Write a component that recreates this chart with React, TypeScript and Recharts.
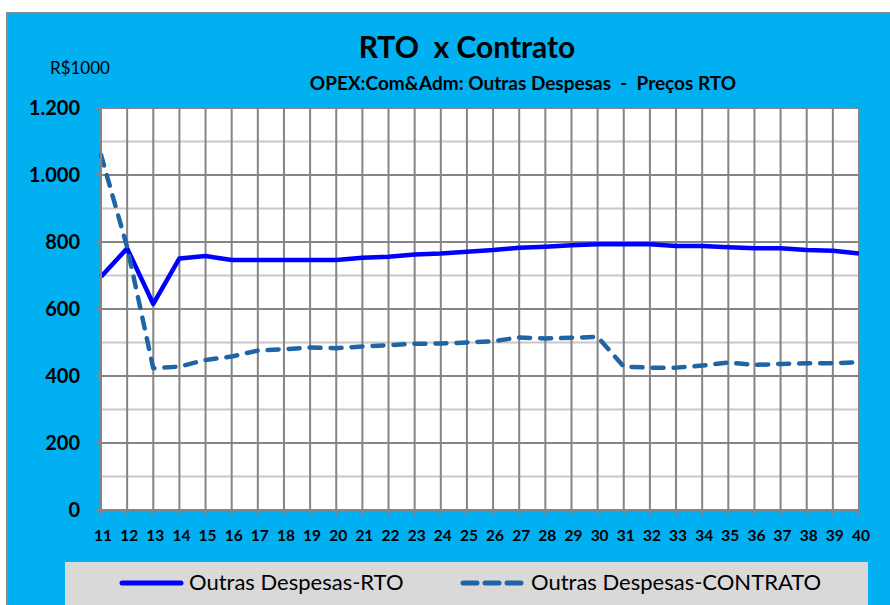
import React from 'react';
import { LineChart, Line, XAxis, YAxis, CartesianGrid } from 'recharts';

const years = [11,12,13,14,15,16,17,18,19,20,21,22,23,24,25,26,27,28,29,30,31,32,33,34,35,36,37,38,39,40];
const rtoValues = [696,781,615,751,758,746,746,746,746,746,753,756,763,766,771,776,783,786,790,793,793,793,788,788,784,781,781,776,774,766];
const contratoValues = [1060,785,423,428,448,458,476,480,485,483,488,492,496,497,500,504,515,512,514,517,428,425,425,431,440,433,436,438,438,441];
const yTicks = [0,200,400,600,800,1000,1200];
const yMinor = [100,300,500,700,900,1100];

const TITLE = 'RTO  x Contrato';
const SUBTITLE = 'OPEX:Com&Adm: Outras Despesas  -  Preços RTO';
const UNIT = 'R$1000';
const S1 = 'Outras Despesas-RTO';
const S2 = 'Outras Despesas-CONTRATO';

const data = years.map((y, i) => ({ x: y, rto: rtoValues[i], contrato: contratoValues[i] }));

const FONT = 'Lato, "Noto Sans", sans-serif';
const BLUE = '#0000FF';
const DASH = '#1F64A5';

const fmt = (v: number) => v >= 1000 ? `${Math.floor(v / 1000)}.${String(v % 1000).padStart(3, '0')}` : String(v);

export default function App() {
  return (
    <div style={{ position: 'fixed', left: 0, top: 0, width: 890, height: 605, overflow: 'hidden', background: '#fff', fontFamily: FONT }}>
      <div style={{ position: 'absolute', left: 6, top: 12, width: 900, height: 610, border: '2px solid #8a8a8a', background: '#00B0F0' }} />
      <div style={{ position: 'absolute', left: 0, width: 934, top: 29, textAlign: 'center', fontSize: 30, fontWeight: 700, color: '#000', whiteSpace: 'pre', lineHeight: '34px' }}>{TITLE}</div>
      <div style={{ position: 'absolute', left: 0, width: 1046, top: 70, textAlign: 'center', fontSize: 19, fontWeight: 700, color: '#000', whiteSpace: 'pre', lineHeight: '26px' }}>{SUBTITLE}</div>
      <div style={{ position: 'absolute', left: 50, top: 57, fontSize: 17, color: '#000', lineHeight: '22px' }}>{UNIT}</div>
      <div style={{ position: 'absolute', left: 65, top: 562, width: 803, height: 60, background: '#D9D9D9' }} />
      <svg style={{ position: 'absolute', left: 0, top: 0 }} width={890} height={605}>
        <line x1={122} y1={583} x2={181} y2={583} stroke={BLUE} strokeWidth={5} strokeLinecap="round" />
        <line x1={463} y1={583} x2={521} y2={583} stroke={DASH} strokeWidth={5} strokeLinecap="round" strokeDasharray="14 8" />
      </svg>
      <div style={{ position: 'absolute', left: 189, top: 569, fontSize: 22, color: '#000', lineHeight: '26px' }}>{S1}</div>
      <div style={{ position: 'absolute', left: 531, top: 569, fontSize: 22, color: '#000', lineHeight: '26px' }}>{S2}</div>
      <div style={{ position: 'absolute', left: 0, top: 0 }}>
        <LineChart width={890} height={605} data={data} margin={{ top: 108, right: 31, bottom: 65, left: 0 }}>
          <CartesianGrid fill="#FFFFFF" vertical={false} horizontalValues={yMinor} stroke="#C8C8C8" strokeWidth={2} />
          <CartesianGrid stroke="#858585" strokeWidth={2} />
          <XAxis
            dataKey="x"
            type="number"
            domain={[11, 40]}
            ticks={years}
            interval={0}
            height={30}
            tickSize={5}
            tickMargin={15}
            axisLine={{ stroke: '#858585', strokeWidth: 2 }}
            tickLine={{ stroke: '#858585', strokeWidth: 2 }}
            tick={{ fill: '#000', fontSize: 15.5, fontWeight: 700, fontFamily: FONT, dx: 2 }}
          />
          <YAxis
            domain={[0, 1200]}
            ticks={yTicks}
            interval={0}
            width={101}
            tickSize={5}
            tickMargin={16}
            tickFormatter={fmt}
            axisLine={{ stroke: '#858585', strokeWidth: 2 }}
            tickLine={{ stroke: '#858585', strokeWidth: 2 }}
            tick={{ fill: '#000', fontSize: 20, fontWeight: 700, fontFamily: FONT }}
          />
          <Line type="linear" dataKey="rto" name={S1} stroke={BLUE} strokeWidth={4.5} dot={false} isAnimationActive={false} strokeLinejoin="round" />
          <Line type="linear" dataKey="contrato" name={S2} stroke={DASH} strokeWidth={4.5} dot={false} isAnimationActive={false} strokeDasharray="11 10" strokeLinecap="round" strokeLinejoin="round" />
        </LineChart>
      </div>
    </div>
  );
}
